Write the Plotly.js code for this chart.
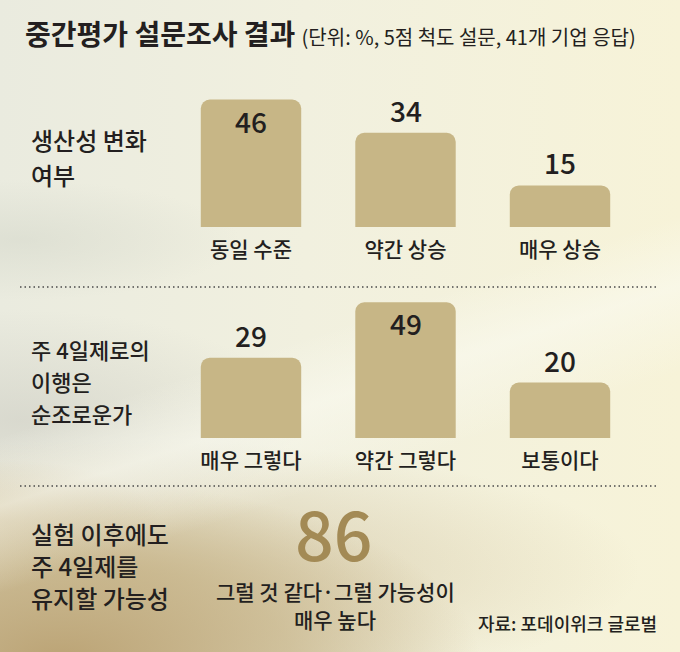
<!DOCTYPE html>
<html>
<head>
<meta charset="utf-8">
<script src="https://cdn.plot.ly/plotly-3.0.1.min.js"></script>
<style>
  html, body { margin: 0; padding: 0; }
  #bg {
    position: relative; width: 680px; height: 652px; overflow: hidden;
    background:
      linear-gradient(162deg, rgba(255,255,255,0) 50%, rgba(250,250,240,0.6) 58%, rgba(255,255,255,0) 68%),
      radial-gradient(ellipse 420px 180px at 60px 660px, rgba(185,160,112,0.95), rgba(195,175,130,0.65) 55%, rgba(220,205,165,0) 100%),
      radial-gradient(ellipse 520px 130px at 120px 570px, rgba(200,180,135,0.6), rgba(220,205,165,0) 100%),
      radial-gradient(ellipse 160px 60px at 0px 520px, rgba(190,170,125,0.7), rgba(220,205,165,0) 100%),
      radial-gradient(ellipse 280px 110px at 20px 420px, rgba(205,205,195,0.6), rgba(230,230,220,0) 100%),
      radial-gradient(ellipse 220px 60px at 20px 240px, rgba(212,215,202,0.55), rgba(230,230,220,0) 100%),
      linear-gradient(to right, #eaebdf 0%, #f1f0df 45%, #f7f3d8 100%);
  }
  #chart { position: absolute; left: 0; top: 0; width: 680px; height: 652px; }
</style>
</head>
<body>
<div id="bg"><div id="chart"></div></div>
<script>
// ---- data ----
const titleText = '중간평가 설문조사 결과';
const subtitleText = '(단위: %, 5점 척도 설문, 41개 기업 응답)';

const row1Label = ['생산성 변화', '여부'];
const row1Categories = ['동일 수준', '약간 상승', '매우 상승'];
const row1Values = [46, 34, 15];

const row2Label = ['주 4일제로의', '이행은', '순조로운가'];
const row2Categories = ['매우 그렇다', '약간 그렇다', '보통이다'];
const row2Values = [29, 49, 20];

const row3Label = ['실험 이후에도', '주 4일제를', '유지할 가능성'];
const row3Value = 86;
const row3Caption = ['그럴 것 같다·그럴 가능성이', '매우 높다'];

const sourceText = '자료: 포데이위크 글로벌';

// ---- styling ----
const W = 680, H = 652;
const FONT = '"Noto Sans CJK KR", "Noto Sans", sans-serif';
const INK = '#231f20';
const BAR = '#c7b686';
const GOLD = '#a38a55';
const WEIGHT = 500;
const px = v => v / W;
const py = v => 1 - v / H;

const barCommon = {
  type: 'bar',
  marker: { color: BAR, cornerradius: 9 },
  width: 0.65,
  hoverinfo: 'skip',
  showlegend: false
};

const traces = [
  Object.assign({}, barCommon, { x: row1Categories, y: row1Values, xaxis: 'x', yaxis: 'y' }),
  Object.assign({}, barCommon, { x: row2Categories, y: row2Values, xaxis: 'x2', yaxis: 'y2' })
];

// pixel geometry: 2.77 px per percentage point
const SCALE = 2.77, RMAX = 50;
const base1 = 227, base2 = 438;
const xDomain = [px(173.75), px(637.25)];

const xCommon = {
  type: 'category', range: [-0.5, 2.5], domain: xDomain,
  showgrid: false, zeroline: false, showline: false, ticks: '',
  tickfont: { family: FONT, size: 21, color: INK, weight: WEIGHT },
  ticklabelstandoff: 8, fixedrange: true
};
const yCommon = {
  range: [0, RMAX], showgrid: false, zeroline: false, showline: false,
  showticklabels: false, ticks: '', fixedrange: true
};

const annotations = [];

// value labels, placed through the bar axes
function addValues(cats, vals, xr, yr) {
  cats.forEach((c, i) => {
    const inside = vals[i] >= 40;
    annotations.push({
      text: String(vals[i]), xref: xr, yref: yr, x: c, y: vals[i],
      xanchor: 'center', yanchor: inside ? 'top' : 'bottom',
      yshift: 1, showarrow: false,
      font: { family: FONT, size: 28, color: INK, weight: WEIGHT }
    });
  });
}
addValues(row1Categories, row1Values, 'x', 'y');
addValues(row2Categories, row2Values, 'x2', 'y2');

function addLines(lines, x, centers, size, opts) {
  lines.forEach((t, i) => {
    annotations.push(Object.assign({
      text: t, xref: 'paper', yref: 'paper', x: px(x), y: py(centers[i]),
      xanchor: 'left', yanchor: 'middle', showarrow: false,
      font: { family: FONT, size: size, color: INK, weight: WEIGHT }
    }, opts || {}));
  });
}
addLines(row1Label, 29, [139, 174], 24);
addLines(row2Label, 29, [349, 381, 413], 22);
addLines(row3Label, 29, [533, 565, 597], 24);

annotations.push({
  text: String(row3Value), xref: 'paper', yref: 'paper',
  x: px(334), y: py(531), xanchor: 'center', yanchor: 'middle', showarrow: false,
  font: { family: FONT, size: 68, color: GOLD, weight: WEIGHT }
});
addLines(row3Caption, 335, [591, 619], 21, { xanchor: 'center' });
annotations.push({
  text: sourceText, xref: 'paper', yref: 'paper',
  x: px(659), y: py(623), xanchor: 'right', yanchor: 'middle', showarrow: false,
  font: { family: FONT, size: 18, color: INK, weight: WEIGHT }
});

const dotLine = y => ({
  type: 'line', xref: 'paper', yref: 'paper',
  x0: px(20), x1: px(657), y0: py(y), y1: py(y),
  line: { color: '#4a4a4a', width: 1.3, dash: '1.5px,3px' }
});

const layout = {
  width: W, height: H,
  margin: { l: 0, r: 0, t: 0, b: 0 },
  paper_bgcolor: 'rgba(0,0,0,0)',
  plot_bgcolor: 'rgba(0,0,0,0)',
  font: { family: FONT, color: INK },
  title: {
    text: '<b>' + titleText + '</b> <span style="font-size:20px;font-weight:400">' + subtitleText + '</span>',
    x: px(25), xanchor: 'left', xref: 'paper',
    y: py(35), yanchor: 'middle', yref: 'container',
    font: { family: FONT, size: 28, color: INK }
  },
  xaxis: Object.assign({}, xCommon, { anchor: 'y' }),
  yaxis: Object.assign({}, yCommon, { domain: [py(base1), py(base1 - SCALE * RMAX)], anchor: 'x' }),
  xaxis2: Object.assign({}, xCommon, { anchor: 'y2' }),
  yaxis2: Object.assign({}, yCommon, { domain: [py(base2), py(base2 - SCALE * RMAX)], anchor: 'x2' }),
  shapes: [dotLine(287), dotLine(486)],
  annotations: annotations
};

Plotly.newPlot('chart', traces, layout, { displayModeBar: false, staticPlot: true });
</script>
</body>
</html>
